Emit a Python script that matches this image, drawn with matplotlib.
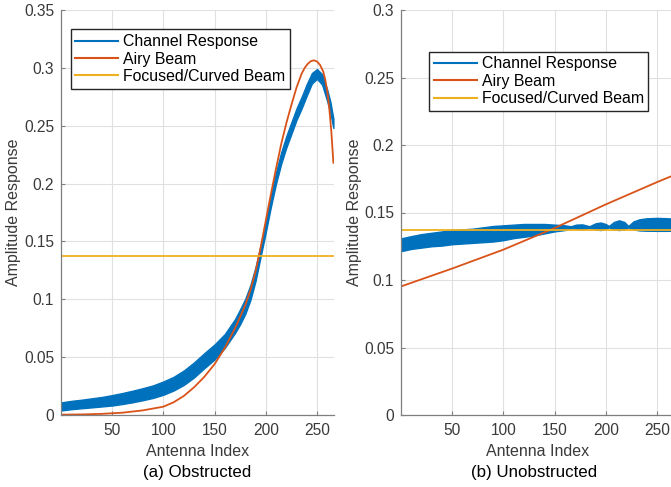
import numpy as np
import matplotlib
matplotlib.use("Agg")
import matplotlib.pyplot as plt
from matplotlib.lines import Line2D
from matplotlib.ticker import FuncFormatter

plt.rcParams["font.family"] = ["Liberation Sans", "DejaVu Sans"]

# --- data ---
# (a) obstructed: envelope of the fast-oscillating channel response
ch_idx_a = [1, 10, 20, 30, 40, 50, 60, 70, 80, 90, 100, 110, 120, 130, 140, 150,
            160, 170, 175, 180, 185, 190, 195, 200, 205, 210, 215, 220, 225, 230,
            235, 240, 245, 250, 255, 260, 263, 266]
ch_lo_a = [0.0040, 0.0050, 0.0058, 0.0066, 0.0074, 0.0082, 0.0095, 0.0110, 0.0128,
           0.0148, 0.0175, 0.0212, 0.0260, 0.0325, 0.0405, 0.0480, 0.0580, 0.0710,
           0.0785, 0.0875, 0.0995, 0.1160, 0.1370, 0.1580, 0.1800, 0.2000, 0.2170,
           0.2310, 0.2430, 0.2550, 0.2650, 0.2760, 0.2865, 0.2905, 0.2855, 0.2710,
           0.2610, 0.2480]
ch_hi_a = [0.0110, 0.0122, 0.0132, 0.0144, 0.0156, 0.0172, 0.0190, 0.0210, 0.0232,
           0.0256, 0.0290, 0.0330, 0.0385, 0.0455, 0.0535, 0.0610, 0.0700, 0.0830,
           0.0915, 0.1005, 0.1125, 0.1280, 0.1470, 0.1680, 0.1900, 0.2100, 0.2270,
           0.2410, 0.2530, 0.2650, 0.2750, 0.2860, 0.2955, 0.2990, 0.2945, 0.2810,
           0.2710, 0.2560]
airy_idx_a = [1, 20, 40, 60, 80, 100, 110, 120, 130, 140, 150, 160, 170, 180, 185,
              190, 195, 200, 205, 210, 215, 220, 225, 230, 235, 238, 241, 244, 247,
              250, 253, 256, 258, 260, 262, 264, 266]
airy_a = [0.0003, 0.0005, 0.001, 0.002, 0.004, 0.0072, 0.011, 0.0165, 0.024, 0.033,
          0.044, 0.058, 0.075, 0.095, 0.108, 0.124, 0.145, 0.168, 0.191, 0.213,
          0.234, 0.252, 0.268, 0.283, 0.295, 0.300, 0.3035, 0.3058, 0.3065, 0.3055,
          0.3025, 0.297, 0.290, 0.280, 0.265, 0.245, 0.218]
focused_a = 0.137

# (b) unobstructed
ch_idx_b = [1, 10, 20, 30, 40, 50, 60, 70, 80, 90, 100, 110, 120, 130, 140, 150,
            160, 166, 171, 177, 184, 190, 195, 200, 203, 208, 213, 218, 222, 227,
            233, 240, 250, 258, 266]
ch_lo_b = [0.1215, 0.1230, 0.1240, 0.1250, 0.1255, 0.1265, 0.1270, 0.1275, 0.1280,
           0.1285, 0.1295, 0.1310, 0.1320, 0.1330, 0.1345, 0.1360, 0.1370, 0.1385,
           0.1378, 0.1376, 0.1388, 0.1374, 0.1370, 0.1380, 0.1390, 0.1376, 0.1370,
           0.1376, 0.1390, 0.1374, 0.1367, 0.1365, 0.1364, 0.1364, 0.1365]
ch_hi_b = [0.1310, 0.1325, 0.1340, 0.1350, 0.1360, 0.1370, 0.1375, 0.1380, 0.1390,
           0.1400, 0.1405, 0.1410, 0.1415, 0.1415, 0.1415, 0.1410, 0.1405, 0.1398,
           0.1410, 0.1412, 0.1398, 0.1420, 0.1426, 0.1414, 0.1400, 0.1430, 0.1442,
           0.1430, 0.1400, 0.1434, 0.1450, 0.1457, 0.1460, 0.1458, 0.1455]
airy_idx_b = [1, 50, 100, 150, 200, 250, 266]
airy_b = [0.0955, 0.1085, 0.1225, 0.1385, 0.1560, 0.1725, 0.1775]
focused_b = 0.137

x_ticks = [50, 100, 150, 200, 250]
labels = ["Channel Response", "Airy Beam", "Focused/Curved Beam"]
subtitles = ["(a) Obstructed", "(b) Unobstructed"]

BLUE = "#0072BD"
RED = "#D95319"
YEL = "#EDB120"
TXT = "#3a3a3a"

W, H = 671, 487
fig = plt.figure(figsize=(W / 100, H / 100), dpi=100)


def px(x0, y_top, w, h):
    return [x0 / W, 1 - (y_top + h) / H, w / W, h / H]


def style(ax, ymax, ystep):
    ax.set_xlim(0, 266.6)
    ax.set_ylim(0, ymax)
    ax.set_xticks(x_ticks)
    ax.set_yticks(np.arange(0, ymax + 1e-9, ystep))
    ax.yaxis.set_major_formatter(FuncFormatter(lambda v, _: "%g" % round(v, 3)))
    for s in ("top", "right"):
        ax.spines[s].set_visible(False)
    for s in ("left", "bottom"):
        ax.spines[s].set_color("#7f7f7f")
        ax.spines[s].set_linewidth(0.9)
    ax.tick_params(direction="in", length=3, color="#7f7f7f", labelsize=11.2,
                   labelcolor=TXT)
    ax.tick_params(axis="y", pad=5)
    ax.tick_params(axis="x", pad=6)
    ax.grid(True, color="#e0e0e0", linewidth=0.8)
    ax.set_axisbelow(True)
    ax.set_xlabel("Antenna Index", fontsize=11.5, color=TXT)
    ax.set_ylabel("Amplitude Response", fontsize=11.5, color=TXT)
    ax.xaxis.set_label_coords(0.5, -0.072)


def draw(ax, ch_idx, lo, hi, airy_idx, airy, focused, leg_anchor):
    ax.fill_between(ch_idx, lo, hi, color=BLUE, edgecolor=BLUE, linewidth=1.0)
    ax.plot(airy_idx, airy, color=RED, linewidth=1.3)
    ax.axhline(focused, color=YEL, linewidth=1.3)
    handles = [Line2D([], [], color=c, linewidth=1.5) for c in (BLUE, RED, YEL)]
    ax.legend(handles, labels, loc="upper left", bbox_to_anchor=leg_anchor,
              borderaxespad=0, fontsize=11.4, handlelength=2.7, handletextpad=0.3,
              labelspacing=0.15, borderpad=0.3, fancybox=False, framealpha=1,
              edgecolor="#262626")


ax1 = fig.add_axes(px(61, 10, 273, 405))
style(ax1, 0.35, 0.05)
draw(ax1, ch_idx_a, ch_lo_a, ch_hi_a, airy_idx_a, airy_a, focused_a, (0.0355, 0.952))
ax1.yaxis.set_label_coords(-0.1465, 0.5)

ax2 = fig.add_axes(px(401, 10, 273, 405))
style(ax2, 0.3, 0.05)
draw(ax2, ch_idx_b, ch_lo_b, ch_hi_b, airy_idx_b, airy_b, focused_b, (0.1037, 0.897))
ax2.yaxis.set_label_coords(-0.143, 0.5)

fig.text(197 / W, 1 - 473 / H, subtitles[0], ha="center", va="center", fontsize=12.2)
fig.text(534 / W, 1 - 473 / H, subtitles[1], ha="center", va="center", fontsize=12.2)

fig.savefig("out.png", dpi=100)
